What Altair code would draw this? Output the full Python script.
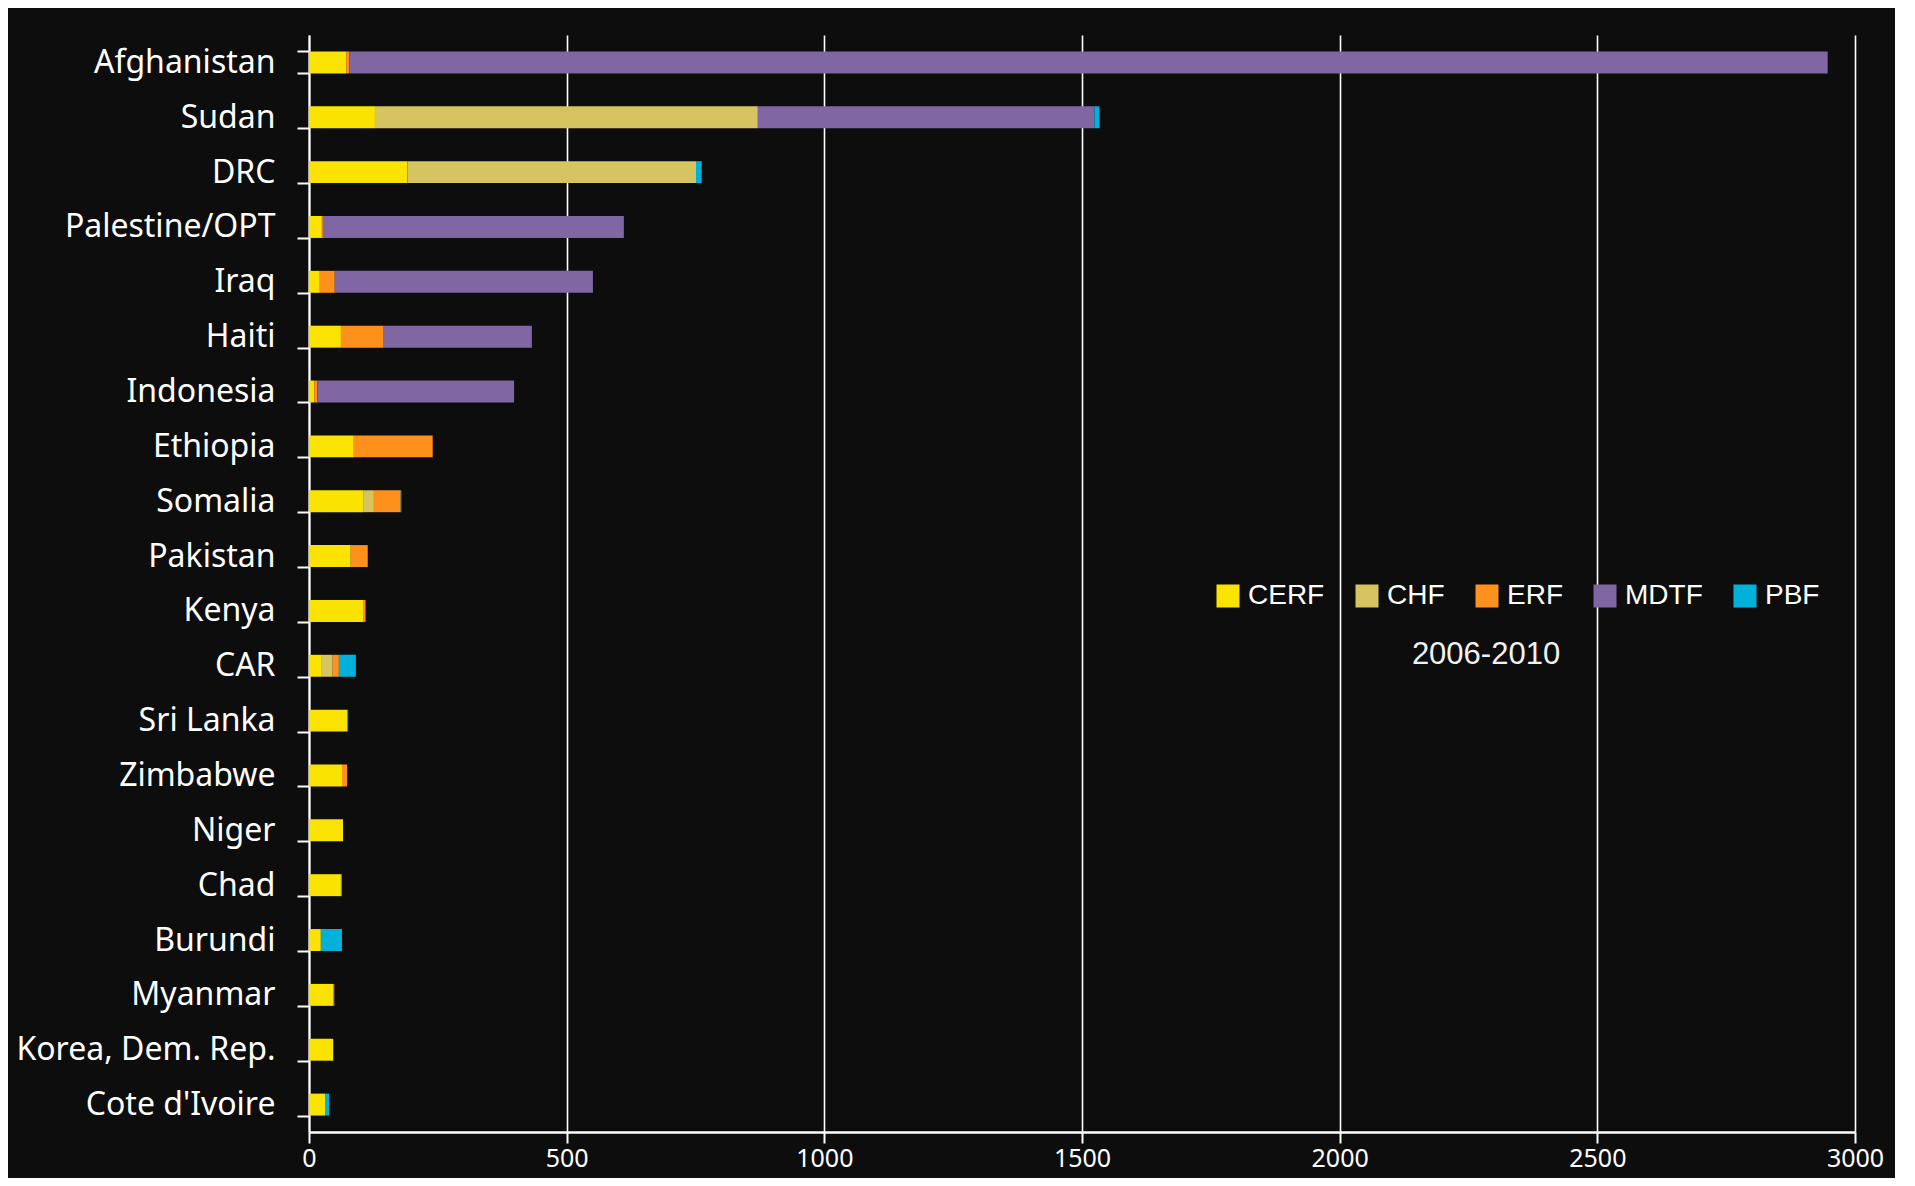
import altair as alt
import pandas as pd

countries = ["Afghanistan", "Sudan", "DRC", "Palestine/OPT", "Iraq", "Haiti",
             "Indonesia", "Ethiopia", "Somalia", "Pakistan", "Kenya", "CAR",
             "Sri Lanka", "Zimbabwe", "Niger", "Chad", "Burundi", "Myanmar",
             "Korea, Dem. Rep.", "Cote d'Ivoire"]

funds = ["CERF", "CHF", "ERF", "MDTF", "PBF"]
fund_colors = ["#fae300", "#d6c461", "#fe901c", "#8066a2", "#00b2d9"]

cerf = [72, 128, 191, 25, 21, 62, 10, 87, 105, 81, 105, 25, 74, 64, 66, 62, 23, 47, 47, 31]
chf  = [0, 743, 560, 0, 0, 0, 0, 0, 21, 0, 0, 21, 0, 0, 0, 0, 0, 0, 0, 0]
erf  = [6, 0, 0, 2, 29, 83, 6, 153, 52, 33, 4, 12, 0, 10, 0, 0, 0, 2, 0, 0]
mdtf = [2869, 653, 0, 584, 501, 286, 382, 0, 0, 0, 0, 0, 0, 0, 0, 0, 0, 0, 0, 0]
pbf  = [0, 10, 11, 0, 0, 1.5, 0, 0, 1.3, 0, 1.3, 33, 2, 0, 0, 2, 41, 0, 0, 8]

x_ticks = [0, 500, 1000, 1500, 2000, 2500, 3000]
period_label = "2006-2010"

series = {"CERF": cerf, "CHF": chf, "ERF": erf, "MDTF": mdtf, "PBF": pbf}
rows = []
for fi, f in enumerate(funds):
    for c, v in zip(countries, series[f]):
        if v > 0:
            rows.append({"country": c, "fund": f, "value": v, "idx": fi})
df = pd.DataFrame(rows)

bars = alt.Chart(df).mark_bar().encode(
    y=alt.Y("country:N", sort=countries,
            scale=alt.Scale(paddingInner=0.6, paddingOuter=0.3),
            axis=alt.Axis(title=None, tickBand="extent", labelFont="Noto Sans",
                          labelFontSize=32, labelColor="white", labelPadding=22,
                          labelLimit=0,
                          tickSize=12, tickWidth=2, tickColor="white",
                          domainColor="white", domainWidth=2, grid=False)),
    x=alt.X("value:Q", stack="zero",
            scale=alt.Scale(domain=[0, 3000], nice=False),
            axis=alt.Axis(title=None, values=x_ticks, format="d",
                          labelFont="Noto Sans", labelFontSize=25, labelColor="white",
                          labelPadding=3, tickSize=11, tickWidth=2, tickColor="white",
                          domainColor="white", domainWidth=2.5,
                          grid=True, gridColor="white", gridWidth=1.6, gridOpacity=1,
                          labelFlush=False)),
    color=alt.Color("fund:N", scale=alt.Scale(domain=funds, range=fund_colors),
                    legend=alt.Legend(orient="none", legendX=905, legendY=547,
                                      direction="horizontal", columns=5, title=None,
                                      symbolType="square", symbolSize=529,
                                      symbolStrokeWidth=0, symbolOpacity=1,
                                      labelFont="Liberation Sans",
                                      labelFontSize=28, labelColor="white",
                                      labelOffset=6, columnPadding=28)),
    order=alt.Order("idx:Q", sort="ascending"),
)

note = alt.Chart(pd.DataFrame({"label": [period_label]})).mark_text(
    font="Liberation Sans", fontSize=31, color="#f2f2f2", align="center", baseline="middle"
).encode(text="label:N", x=alt.value(1177), y=alt.value(620))

chart = alt.layer(bars, note).properties(
    width=1546, height=1097,
    padding={"left": 301, "top": 27, "right": 40, "bottom": 46},
    autosize=alt.AutoSizeParams(type="none"),
    background="#0d0d0d",
).configure_view(stroke="transparent")

chart.save("out.html", embed_options={"renderer": "svg", "actions": False})
